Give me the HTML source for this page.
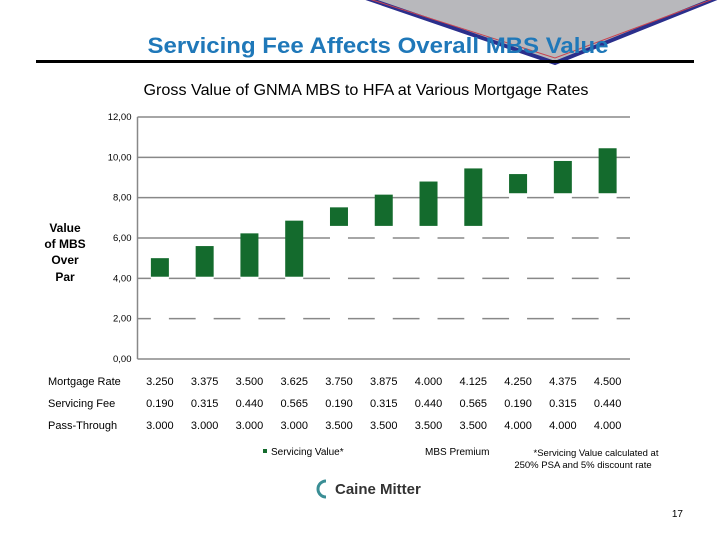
<!DOCTYPE html>
<html><head><meta charset="utf-8"><style>
body{margin:0;width:720px;height:540px;background:#fff;overflow:hidden;font-family:"Liberation Sans",sans-serif;}
</style></head><body>
<svg width="720" height="540" viewBox="0 0 720 540" xmlns="http://www.w3.org/2000/svg" font-family="Liberation Sans, sans-serif">
<g>
<polygon points="360,-4 555,63 722,-4" fill="#b8b8bc" stroke="#2b2f8c" stroke-width="4"/>
<polyline points="366,-2 555,58 716,-2" fill="none" stroke="#c8434f" stroke-width="1"/>
</g>
<text x="378" y="53" text-anchor="middle" font-size="22" font-weight="bold" fill="#1f78b9" textLength="461" lengthAdjust="spacingAndGlyphs">Servicing Fee Affects Overall MBS Value</text>
<rect x="36" y="60" width="658" height="3" fill="#000"/>
<text x="366" y="95" text-anchor="middle" font-size="16" fill="#000" textLength="445" lengthAdjust="spacingAndGlyphs">Gross Value of GNMA MBS to HFA at Various Mortgage Rates</text>
<g font-size="12" font-weight="bold" text-anchor="middle">
<text x="65" y="232">Value</text><text x="65" y="248">of MBS</text><text x="65" y="264">Over</text><text x="65" y="281">Par</text>
</g>
<g id="grid"></g><g id="bars"></g><g id="ticks" font-size="9.5" text-anchor="end"></g>
<g id="table" font-size="11"></g>
<g font-size="10">
<rect x="263" y="449" width="4" height="4" fill="#146b2d"/>
<text x="271" y="455">Servicing Value*</text>
<text x="425" y="455">MBS Premium</text>
</g>
<g font-size="9.5" text-anchor="middle">
<text x="596" y="456">*Servicing Value calculated at</text><text x="583" y="468">250% PSA and 5% discount rate</text>
</g>
<g>
<path d="M326,481 A8,8 0 1 0 326,497" fill="none" stroke="#3a8e95" stroke-width="3"/>
<text x="335" y="494" font-size="15" font-weight="bold" fill="#333">Caine Mitter</text>
</g>
<text x="683" y="517" text-anchor="end" font-size="10">17</text>
</svg>
<script>
const rates=["3.250","3.375","3.500","3.625","3.750","3.875","4.000","4.125","4.250","4.375","4.500"];
const fees=["0.190","0.315","0.440","0.565","0.190","0.315","0.440","0.565","0.190","0.315","0.440"];
const passes=["3.000","3.000","3.000","3.000","3.500","3.500","3.500","3.500","4.000","4.000","4.000"];
const premium=[4.08,4.08,4.08,4.08,6.6,6.6,6.6,6.6,8.22,8.22,8.22];
const servicing=[0.92,1.52,2.15,2.78,0.92,1.55,2.2,2.85,0.95,1.6,2.23];
const yTicks=[0,2,4,6,8,10,12];
const yTickLabels=["0,00","2,00","4,00","6,00","8,00","10,00","12,00"];
const NS="http://www.w3.org/2000/svg";
const x0=137.5,x1=630,yB=359,yT=117,ymax=12;
const band=(x1-x0)/rates.length;
const Y=v=>yB-(v/ymax)*(yB-yT);
const XC=i=>x0+band*(i+0.5);
const bw=18;
function mk(t,a,p){const e=document.createElementNS(NS,t);for(const k in a)e.setAttribute(k,a[k]);p.appendChild(e);return e;}
const grid=document.getElementById('grid'),bars=document.getElementById('bars'),ticks=document.getElementById('ticks'),table=document.getElementById('table');
yTicks.forEach((v,i)=>{
 const l=mk('line',{x1:x0,x2:x1,y1:Y(v),y2:Y(v),stroke:'#888','stroke-width':1.5},grid);
 
 
 const t=mk('text',{x:x0-6,y:Y(v)+3},ticks);t.textContent=yTickLabels[i];
 
 
});
const ax=mk('line',{x1:x0,x2:x0,y1:yT,y2:yB,stroke:'#888','stroke-width':1.5},grid);


rates.forEach((r,i)=>{
 const cx=XC(i);
 const w=mk('rect',{x:cx-bw/2,y:Y(premium[i]),width:bw,height:Y(0)-Y(premium[i])-1,fill:'#fff'},bars);
 
 
 const top=premium[i]+servicing[i];
 const g=mk('rect',{x:cx-bw/2,y:Y(top),width:bw,height:Y(premium[i])-Y(top),fill:'#146b2d'},bars);
 
 
 [[rates,385],[fees,407],[passes,429]].forEach(([arr,y])=>{
  const t=mk('text',{x:cx,y:y,'text-anchor':'middle'},table);t.textContent=arr[i];
  
  
 });
});
[["Mortgage Rate",385],["Servicing Fee",407],["Pass-Through",429]].forEach(([s,y])=>{
 const t=mk('text',{x:48,y:y},table);t.textContent=s;
 
 
});
</script>
</body></html>
